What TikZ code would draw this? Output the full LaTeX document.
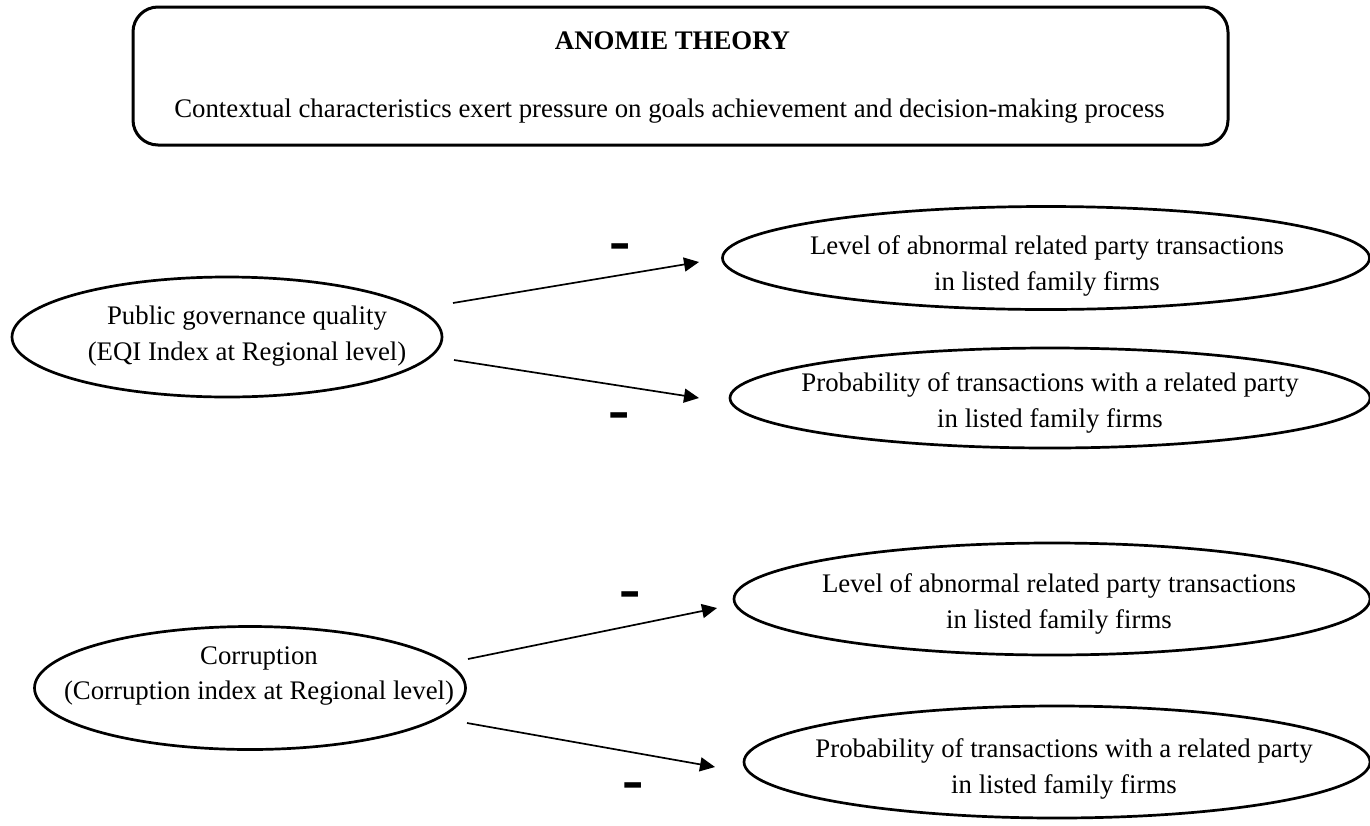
\documentclass[tikz,border=0pt]{standalone}
\usepackage{fontspec}
\setmainfont{Liberation Serif}
\usetikzlibrary{shapes.geometric,arrows.meta}
\begin{document}
\begin{tikzpicture}[x=1pt,y=-1pt,
  txt/.style={font=\fontsize{26.8}{35.5}\selectfont, align=center, inner sep=0pt},
  ell/.style={ellipse, draw, line width=2.7pt, inner sep=0pt, outer sep=0pt},
  arr/.style={-{Triangle[length=15pt,width=14pt]}, line width=1.7pt},
  neg/.style={font=\fontsize{64}{64}\selectfont\bfseries, inner sep=0pt, anchor=base},
  theorybox/.style={draw, rounded corners=25pt, line width=3pt, inner sep=0pt, outer sep=0pt}]
\useasboundingbox (0,0) rectangle (1370,825);
% top box
\node[theorybox, minimum width=1095pt, minimum height=138pt] (box) at (680.5,76) {};
\node[txt, font=\fontsize{26.8}{35.5}\selectfont\bfseries, anchor=base] (title) at (672.5,49) {ANOMIE THEORY};
\node[txt, anchor=base] (sub) at (669.5,117) {Contextual characteristics exert pressure on goals achievement and decision-making process};
% group 1
\node[ell, minimum width=430pt, minimum height=120pt] (pg) at (227,337) {};
\node[txt] (pgt) at (247,336) {Public governance quality\\(EQI Index at Regional level)};
\node[ell, minimum width=647pt, minimum height=103pt] (lv1) at (1046,258) {};
\node[txt] (lv1t) at (1047,266) {Level of abnormal related party transactions\\in listed family firms};
\node[ell, minimum width=640pt, minimum height=100pt] (pr1) at (1050,398) {};
\node[txt] (pr1t) at (1050,403) {Probability of transactions with a related party\\in listed family firms};
% group 2
\node[ell, minimum width=431pt, minimum height=123pt] (co) at (250,688) {};
\node[txt] (cot) at (259,676) {Corruption\\(Corruption index at Regional level)};
\node[ell, minimum width=636pt, minimum height=112pt] (lv2) at (1052,599) {};
\node[txt] (lv2t) at (1059,604) {Level of abnormal related party transactions\\in listed family firms};
\node[ell, minimum width=626pt, minimum height=112pt] (pr2) at (1057,762) {};
\node[txt] (pr2t) at (1064,769) {Probability of transactions with a related party\\in listed family firms};
% arrows
\draw[arr] ([shift={(11,-34)}]pg.east) -- ([shift={(-23.5,4)}]lv1.west);
\draw[arr] ([shift={(12,23)}]pg.east) -- ([shift={(-31,0)}]pr1.west);
\draw[arr] ([shift={(2.5,-29)}]co.east) -- ([shift={(-17,9)}]lv2.west);
\draw[arr] ([shift={(1.5,35)}]co.east) -- ([shift={(-29,5)}]pr2.west);
% signs
\node[neg] (m1) at (620,261.7) {-};
\node[neg] (m2) at (619,430.7) {-};
\node[neg] (m3) at (630,609.7) {-};
\node[neg] (m4) at (633,800.7) {-};
\end{tikzpicture}
\end{document}
